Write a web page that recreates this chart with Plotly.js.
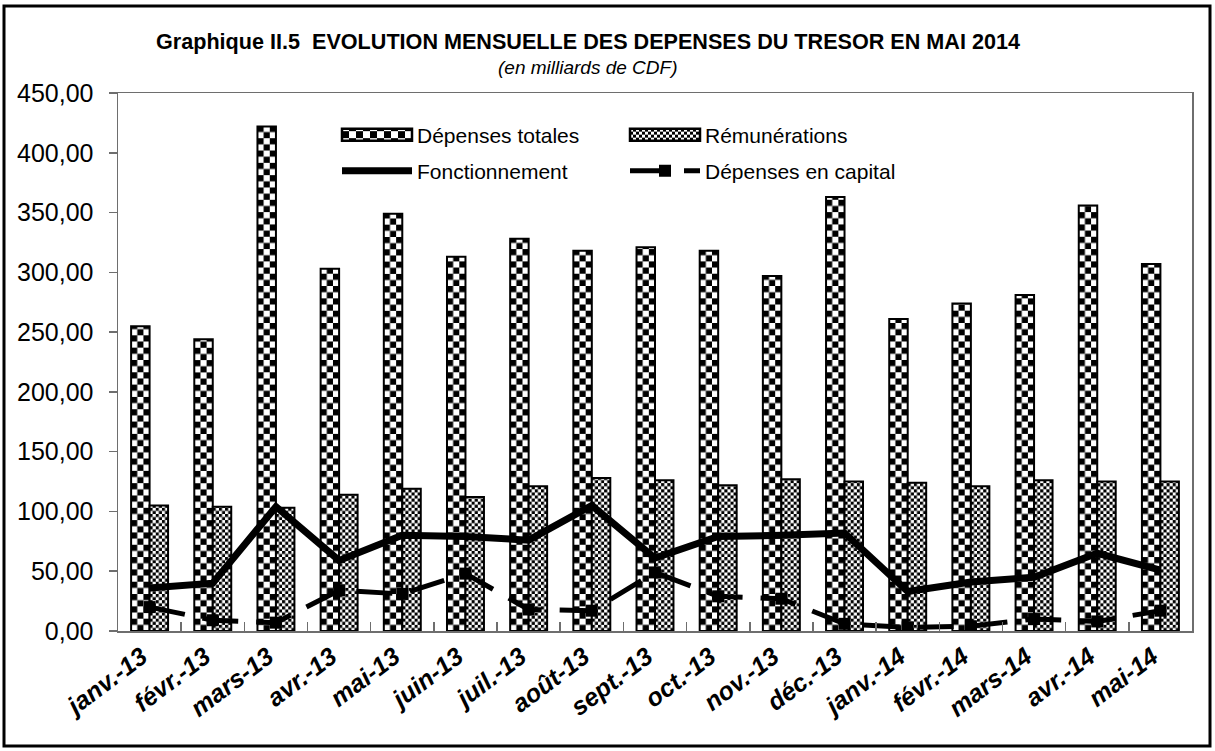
<!DOCTYPE html>
<html>
<head>
<meta charset="utf-8">
<script src="https://cdn.plot.ly/plotly-3.0.1.min.js"></script>
<style>
  html, body { margin: 0; padding: 0; background: #fff; }
  #chart { width: 1215px; height: 751px; }
</style>
</head>
<body>
<div id="chart"></div>
<script>
// ---- data ----
const categories = ['janv.-13','févr.-13','mars-13','avr.-13','mai-13','juin-13','juil.-13','août-13','sept.-13','oct.-13','nov.-13','déc.-13','janv.-14','févr.-14','mars-14','avr.-14','mai-14'];
const depensesTotales = [255, 244, 422, 303, 349, 313, 328, 318, 321, 318, 297, 363, 261, 274, 281, 356, 307];
const remunerations   = [105, 104, 103, 114, 119, 112, 121, 128, 126, 122, 127, 125, 124, 121, 126, 125, 125];
const fonctionnement  = [36, 40, 104, 59, 80, 79, 76, 105, 61, 79, 80, 82, 33, 41, 45, 65, 51];
const depCapital      = [20, 9, 7, 34, 31, 48, 18, 17, 49, 29, 27, 6, 3, 4, 10, 8, 17];
const yTicks = [0, 50, 100, 150, 200, 250, 300, 350, 400, 450];

const FONT = 'Liberation Sans, Arial, Helvetica, sans-serif';

const traces = [
  { type: 'bar', name: 'Dépenses totales', x: categories, y: depensesTotales,
    marker: { color: '#ffffff', line: { color: '#000', width: 2 } }, legend: 'legend' },
  { type: 'bar', name: 'Rémunérations', x: categories, y: remunerations,
    marker: { color: '#ffffff', line: { color: '#000', width: 2 } }, legend: 'legend' },
  { type: 'scatter', mode: 'lines', name: 'Fonctionnement', x: categories, y: fonctionnement,
    line: { color: '#000', width: 7 }, legend: 'legend2' },
  { type: 'scatter', mode: 'lines+markers', name: 'Dépenses en capital', x: categories, y: depCapital,
    line: { color: '#000', width: 5, dash: '36px,18px' },
    marker: { symbol: 'square', size: 12, color: '#000' }, legend: 'legend2' }
];

const legendCommon = {
  orientation: 'h', xanchor: 'left', yanchor: 'middle',
  font: { family: FONT, size: 21, color: '#000' },
  itemwidth: 70, entrywidth: 203, bgcolor: 'rgba(0,0,0,0)', traceorder: 'normal'
};

const layout = {
  width: 1215, height: 751,
  margin: { l: 118, r: 23, t: 93, b: 120 },
  paper_bgcolor: '#fff', plot_bgcolor: '#fff',
  separators: ', ',
  font: { family: FONT, color: '#000' },
  title: {
    text: '<b>Graphique II.5 \u00a0EVOLUTION MENSUELLE DES DEPENSES DU TRESOR EN MAI 2014</b>',
    font: { family: FONT, size: 21.6, color: '#000' },
    x: 588 / 1215, xanchor: 'center', xref: 'container',
    y: 1 - 41.3 / 751, yanchor: 'middle', yref: 'container'
  },
  annotations: [{
    text: '<i>(en milliards de CDF)</i>', showarrow: false,
    xref: 'paper', yref: 'paper', x: (587.5 - 118) / 1074, y: (631 - 67.5) / 538,
    xanchor: 'center', yanchor: 'middle',
    font: { family: FONT, size: 19, color: '#000' }
  }],
  barmode: 'group', bargap: 0.415, bargroupgap: 0,
  xaxis: {
    type: 'category', range: [-0.5, categories.length - 0.5], autorange: false,
    showline: true, linecolor: '#6e6e6e', linewidth: 1.5, mirror: true,
    ticks: 'inside', tickson: 'boundaries', ticklen: 9, tickcolor: '#6e6e6e', tickwidth: 1.5,
    tickangle: -37, ticklabelshift: -8, showgrid: false, zeroline: false,
    tickfont: { family: FONT, size: 25, color: '#000', weight: 'bold', style: 'italic' }
  },
  yaxis: {
    range: [0, 450], autorange: false, tickvals: yTicks, tickformat: '.2f', showline: true,
    linecolor: '#6e6e6e', linewidth: 1.5, mirror: true, showgrid: false, zeroline: false,
    ticks: 'outside', ticklen: 8, tickcolor: '#6e6e6e', tickwidth: 1.5,
    ticklabelstandoff: 10,
    tickfont: { family: FONT, size: 25, color: '#000' }
  },
  legend: Object.assign({}, legendCommon, { x: (337 - 118) / 1074, y: (631 - 135) / 538 }),
  legend2: Object.assign({}, legendCommon, { x: (337 - 118) / 1074, y: (631 - 171) / 538 }),
  shapes: [{
    type: 'rect', xref: 'paper', yref: 'paper',
    x0: (4 - 118) / 1074, x1: (1210 - 118) / 1074,
    y0: (631 - 746) / 538, y1: (631 - 6) / 538,
    line: { color: '#000', width: 3 }, fillcolor: 'rgba(0,0,0,0)', layer: 'above'
  }],
  showlegend: true
};

const NS = 'http://www.w3.org/2000/svg';
function addChecker(defs, id, x, y, sq) {
  const old = document.getElementById(id);
  if (old) old.remove();
  const p = document.createElementNS(NS, 'pattern');
  p.setAttribute('id', id);
  p.setAttribute('patternUnits', 'userSpaceOnUse');
  p.setAttribute('x', x); p.setAttribute('y', y);
  p.setAttribute('width', 2 * sq); p.setAttribute('height', 2 * sq);
  const r = (a, b, w, h, c) => {
    const e = document.createElementNS(NS, 'rect');
    e.setAttribute('x', a); e.setAttribute('y', b);
    e.setAttribute('width', w); e.setAttribute('height', h);
    e.setAttribute('fill', c); p.appendChild(e);
  };
  r(0, 0, 2 * sq, 2 * sq, '#fff');
  r(0, 0, sq, sq, '#000');
  r(sq, sq, sq, sq, '#000');
  defs.appendChild(p);
}

const gd = document.getElementById('chart');
function applyPatterns() {
  const defs = gd.querySelector('svg.main-svg defs');
  if (!defs) return;
  const divisions = [3, 6];
  gd.querySelectorAll('.barlayer .trace').forEach((tr, ti) => {
    tr.querySelectorAll('.point path').forEach((path, pi) => {
      const b = path.getBBox();
      const sq = b.width / divisions[ti];
      const id = 'chk' + ti + '_' + pi;
      addChecker(defs, id, b.x, b.y + b.height, sq);
      path.style.fill = 'url(#' + id + ')';
    });
  });
  const legSq = [7, 3];
  gd.querySelectorAll('g.traces').forEach((item) => {
    const txt = item.textContent || '';
    let i = -1;
    if (txt.indexOf('totales') >= 0) i = 0;
    else if (txt.indexOf('Rémunérations') >= 0) i = 1;
    if (i < 0) return;
    item.querySelectorAll('.legendpoints path').forEach((path) => {
      path.setAttribute('d', 'M35,6H-35V-6H35Z');
      path.style.strokeWidth = '2.5px';
      const id = 'legchk' + i;
      addChecker(defs, id, -35, -legSq[i] * (i === 0 ? 0.5 : 1), legSq[i]);
      path.style.fill = 'url(#' + id + ')';
    });
  });
}
Plotly.newPlot(gd, traces, layout, { staticPlot: true, displayModeBar: false }).then(() => {
  applyPatterns();
  gd.on('plotly_afterplot', applyPatterns);
  setTimeout(applyPatterns, 50);
  setTimeout(applyPatterns, 300);
});
</script>
</body>
</html>
